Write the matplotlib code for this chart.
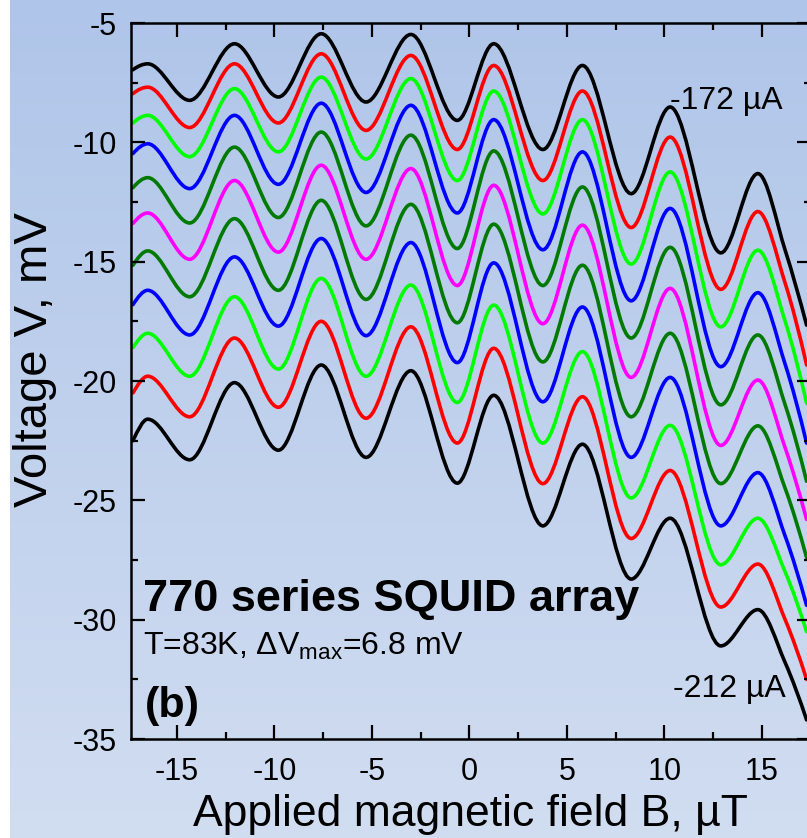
import numpy as np
import matplotlib
matplotlib.use("Agg")
import matplotlib.pyplot as plt
from matplotlib.path import Path
from matplotlib.patches import PathPatch
from matplotlib.ticker import MultipleLocator

plt.rcParams['font.family'] = ['Liberation Sans', 'DejaVu Sans']
plt.rcParams['axes.unicode_minus'] = False
plt.rcParams['mathtext.fontset'] = 'custom'
plt.rcParams['mathtext.rm'] = 'Liberation Sans'
plt.rcParams['mathtext.it'] = 'Liberation Sans:italic'
plt.rcParams['mathtext.bf'] = 'Liberation Sans:bold'

# ---- data (field in uT, voltage in mV) ----
field_B = [-17.26, -16.5, -14.35, -12.05, -9.8, -7.6, -5.3, -3.0, -0.62,
           1.25, 3.77, 5.8, 8.3, 10.3, 12.9, 14.8, 16.2, 17.3]

bias_uA = [-172, -176, -180, -184, -188, -192, -196, -200, -204, -208, -212]

v_m172 = [-6.96, -6.71, -8.24, -5.87, -8.1, -5.45, -8.31, -5.48, -9.08, -5.87, -10.3, -6.78, -12.15, -8.52, -14.63, -11.31, -14.52, -17.66]
v_m176 = [-7.96, -7.69, -9.38, -6.71, -9.19, -6.29, -9.5, -6.36, -10.3, -6.78, -11.6, -7.85, -13.57, -9.78, -16.16, -12.9, -15.9, -19.33]
v_m180 = [-9.19, -8.87, -10.6, -7.75, -10.4, -7.27, -10.7, -7.33, -11.6, -7.85, -13.0, -9.05, -15.1, -11.24, -17.73, -14.52, -17.5, -20.93]
v_m184 = [-10.47, -10.06, -11.94, -8.87, -11.76, -8.36, -12.1, -8.45, -12.96, -9.05, -14.5, -10.4, -16.64, -12.77, -19.4, -16.3, -19.3, -22.6]
v_m188 = [-11.9, -11.48, -13.38, -10.2, -13.15, -9.57, -13.5, -9.7, -14.45, -10.36, -16.0, -11.87, -18.2, -14.4, -21.0, -18.07, -21.0, -24.2]
v_m192 = [-13.4, -12.96, -14.9, -11.6, -14.6, -10.96, -14.9, -11.1, -16.0, -11.8, -17.6, -13.47, -19.85, -16.12, -22.7, -19.96, -22.8, -25.8]
v_m196 = [-15.15, -14.55, -16.47, -13.2, -16.2, -12.43, -16.58, -12.6, -17.56, -13.43, -19.2, -15.15, -21.5, -18.0, -24.3, -21.88, -24.5, -27.4]
v_m200 = [-16.8, -16.2, -18.07, -14.8, -17.7, -14.03, -18.1, -14.2, -19.23, -15.05, -20.87, -16.9, -23.2, -19.85, -26.07, -23.84, -26.5, -29.4]
v_m204 = [-18.6, -18.0, -19.8, -16.47, -19.5, -15.7, -19.8, -15.98, -20.9, -16.82, -22.6, -18.77, -24.9, -21.86, -27.7, -25.75, -28.0, -30.5]
v_m208 = [-20.5, -19.8, -21.5, -18.2, -21.1, -17.5, -21.56, -17.73, -22.6, -18.63, -24.3, -20.66, -26.6, -23.75, -29.47, -27.67, -30.0, -32.5]
v_m212 = [-22.5, -21.6, -23.3, -20.07, -22.9, -19.33, -23.2, -19.57, -24.28, -20.6, -26.07, -22.65, -28.3, -25.75, -31.1, -29.58, -31.8, -34.2]

series = [v_m172, v_m176, v_m180, v_m184, v_m188, v_m192,
          v_m196, v_m200, v_m204, v_m208, v_m212]
colors = ['#000000', '#FF0000', '#00FF00', '#0000FF', '#007A00', '#FF00FF',
          '#007A00', '#0000FF', '#00FF00', '#FF0000', '#000000']

x_ticks = [-15, -10, -5, 0, 5, 10, 15]
y_ticks = [-35, -30, -25, -20, -15, -10, -5]


def smooth_path(x, y):
    """Monotone cubic (PCHIP-style) Bezier path through the read points."""
    x = np.asarray(x, float)
    y = np.asarray(y, float)
    h = np.diff(x)
    d = np.diff(y) / h
    n = len(x)
    m = np.zeros(n)
    for k in range(1, n - 1):
        if d[k - 1] * d[k] > 0:
            w1 = 2 * h[k] + h[k - 1]
            w2 = h[k] + 2 * h[k - 1]
            m[k] = (w1 + w2) / (w1 / d[k - 1] + w2 / d[k])

    def end(h0, h1, d0, d1):
        s = ((2 * h0 + h1) * d0 - h0 * d1) / (h0 + h1)
        if np.sign(s) != np.sign(d0):
            s = 0.0
        elif np.sign(d0) != np.sign(d1) and abs(s) > abs(3 * d0):
            s = 3 * d0
        return s

    m[0] = end(h[0], h[1], d[0], d[1])
    m[-1] = end(h[-1], h[-2], d[-1], d[-2])
    verts = [(x[0], y[0])]
    codes = [Path.MOVETO]
    for k in range(n - 1):
        verts += [(x[k] + h[k] / 3, y[k] + m[k] * h[k] / 3),
                  (x[k + 1] - h[k] / 3, y[k + 1] - m[k + 1] * h[k] / 3),
                  (x[k + 1], y[k + 1])]
        codes += [Path.CURVE4] * 3
    return Path(verts, codes)


W, H = 807, 838
fig = plt.figure(figsize=(W / 100, H / 100), dpi=100)
fig.patch.set_facecolor('white')

# gradient panel background
bg = fig.add_axes([10 / W, 0, (W - 10) / W, 1], zorder=-5)
top = np.array([175, 197, 233]) / 255.0
bot = np.array([209, 221, 241]) / 255.0
t = np.linspace(0, 1, 256)[:, None]
grad = (top[None, :] * (1 - t) + bot[None, :] * t)[:, None, :]
bg.imshow(grad, aspect='auto', extent=[0, 1, 0, 1], interpolation='bicubic')
bg.set_axis_off()

# main axes (right spine lies just outside the figure, as in the reference)
x0, x1, y0, y1 = 131, 810.5, 23, 739
ax = fig.add_axes([x0 / W, 1 - y1 / H, (x1 - x0) / W, (y1 - y0) / H])
ax.set_facecolor('none')
ax.set_xlim(-17.36, 17.5)
ax.set_ylim(-35, -5)

for ys, c in zip(series, colors):
    ax.add_patch(PathPatch(smooth_path(field_B, ys), fill=False,
                           edgecolor=c, lw=2.6, capstyle='round',
                           joinstyle='round'))

ax.set_xticks(x_ticks)
ax.set_yticks(y_ticks)
ax.set_xticklabels([str(v) for v in x_ticks])
ax.set_yticklabels([str(v) for v in y_ticks])
ax.xaxis.set_minor_locator(MultipleLocator(2.5))
ax.yaxis.set_minor_locator(MultipleLocator(2.5))
ax.tick_params(which='both', direction='in', top=True, right=True,
               width=1.6, labelsize=22, colors='black')
ax.tick_params(which='major', length=10)
ax.tick_params(which='minor', length=5)
ax.tick_params(axis='x', pad=13)
ax.tick_params(axis='y', pad=10)
for sp in ax.spines.values():
    sp.set_linewidth(1.8)

# axis titles
fig.text(470 / W, 1 - 826 / H, 'Applied magnetic field B, µT', ha='center',
         va='baseline', fontsize=32)
fig.text(35 / W, 1 - 360 / H, 'Voltage V, mV', ha='center', va='center',
         rotation=90, fontsize=34)

# annotations
ax.text(0.0177, 0.1788, '770 series SQUID array', transform=ax.transAxes,
        ha='left', va='baseline', fontsize=32.5, fontweight='bold')
ax.text(0.0177, 0.1173, r'T=83K, ΔV$_{\mathrm{max}}$=6.8 mV',
        transform=ax.transAxes, ha='left', va='baseline', fontsize=23)
ax.text(0.02, 0.0307, '(b)', transform=ax.transAxes, ha='left',
        va='baseline', fontsize=31, fontweight='bold')
ax.text(0.793, 0.88, f'{bias_uA[0]} µA', transform=ax.transAxes, ha='left',
        va='baseline', fontsize=23)
ax.text(0.798, 0.0587, f'{bias_uA[-1]} µA', transform=ax.transAxes,
        ha='left', va='baseline', fontsize=23)

fig.savefig('out.png', dpi=100)
